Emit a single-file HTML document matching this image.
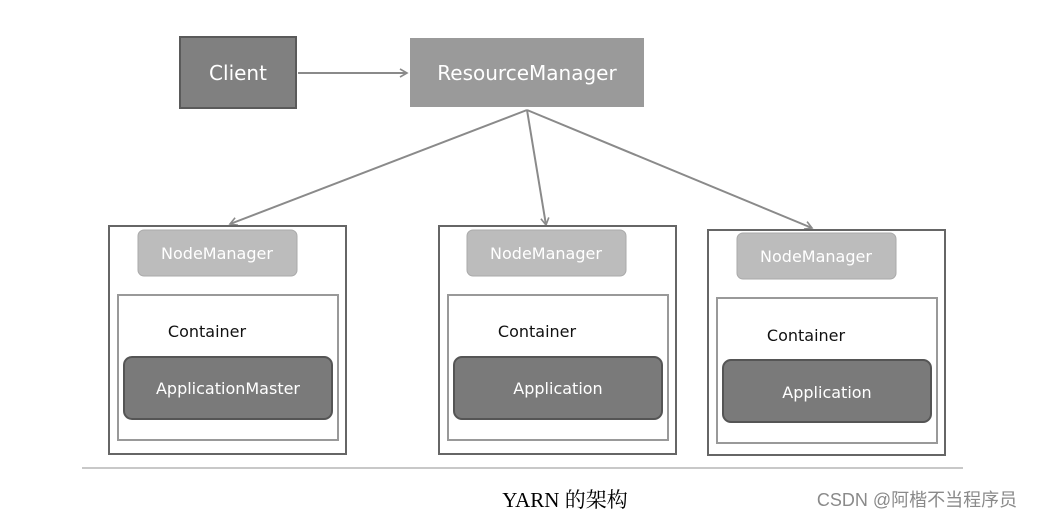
<!DOCTYPE html>
<html><head><meta charset="utf-8"><style>
html,body{margin:0;padding:0;background:#fff;width:1038px;height:519px;overflow:hidden}
svg text{font-family:"DejaVu Sans","Liberation Sans",sans-serif}
</style></head><body>
<svg width="1038" height="519" viewBox="0 0 1038 519" xmlns="http://www.w3.org/2000/svg">
<defs><marker id="a" markerWidth="10" markerHeight="10" refX="8" refY="5" orient="auto" markerUnits="userSpaceOnUse"><path d="M1,1 L8,5 L1,9" fill="none" stroke="#8a8a8a" stroke-width="1.6"/></marker></defs>
<rect x="180" y="37" width="116" height="71" fill="#808080" stroke="#5a5a5a" stroke-width="2"/>
<text x="238" y="80" fill="#fff" font-size="20" text-anchor="middle">Client</text>
<rect x="410" y="38" width="234" height="69" fill="#9a9a9a"/>
<text x="527" y="80" fill="#fff" font-size="20" text-anchor="middle">ResourceManager</text>
<g stroke="#8a8a8a" stroke-width="2" fill="none">
<line x1="298" y1="73" x2="407" y2="73" marker-end="url(#a)"/>
<line x1="527" y1="110" x2="230" y2="224" marker-end="url(#a)"/>
<line x1="527" y1="110" x2="546" y2="225" marker-end="url(#a)"/>
<line x1="527" y1="110" x2="812" y2="228" marker-end="url(#a)"/>
</g>
<g font-size="16" text-anchor="middle">
<rect x="109" y="226" width="237" height="228" fill="#fff" stroke="#666" stroke-width="2"/>
<rect x="138" y="230" width="159" height="46" rx="6" fill="#bcbcbc" stroke="#aaa"/>
<text x="217" y="259" fill="#fff">NodeManager</text>
<rect x="118" y="295" width="220" height="145" fill="#fff" stroke="#999" stroke-width="2"/>
<text x="207" y="337" fill="#111">Container</text>
<rect x="124" y="357" width="208" height="62" rx="8" fill="#7a7a7a" stroke="#555" stroke-width="2"/>
<text x="228" y="394" fill="#fff">ApplicationMaster</text>

<rect x="439" y="226" width="237" height="228" fill="#fff" stroke="#666" stroke-width="2"/>
<rect x="467" y="230" width="159" height="46" rx="6" fill="#bcbcbc" stroke="#aaa"/>
<text x="546" y="259" fill="#fff">NodeManager</text>
<rect x="448" y="295" width="220" height="145" fill="#fff" stroke="#999" stroke-width="2"/>
<text x="537" y="337" fill="#111">Container</text>
<rect x="454" y="357" width="208" height="62" rx="8" fill="#7a7a7a" stroke="#555" stroke-width="2"/>
<text x="558" y="394" fill="#fff">Application</text>

<rect x="708" y="230" width="237" height="225" fill="#fff" stroke="#666" stroke-width="2"/>
<rect x="737" y="233" width="159" height="46" rx="6" fill="#bcbcbc" stroke="#aaa"/>
<text x="816" y="262" fill="#fff">NodeManager</text>
<rect x="717" y="298" width="220" height="145" fill="#fff" stroke="#999" stroke-width="2"/>
<text x="806" y="341" fill="#111">Container</text>
<rect x="723" y="360" width="208" height="62" rx="8" fill="#7a7a7a" stroke="#555" stroke-width="2"/>
<text x="827" y="398" fill="#fff">Application</text>
</g>
<line x1="82" y1="468" x2="963" y2="468" stroke="#c8c8c8" stroke-width="2"/>
<text x="565" y="507" font-size="21" text-anchor="middle" fill="#000" style='font-family:"Liberation Serif","Noto Serif CJK SC",serif'>YARN 的架构</text>
<text x="917" y="506" font-size="18" text-anchor="middle" fill="#8a8a8a" style='font-family:"Liberation Sans","Noto Sans CJK SC",sans-serif'>CSDN @阿楷不当程序员</text>
</svg>
</body></html>
